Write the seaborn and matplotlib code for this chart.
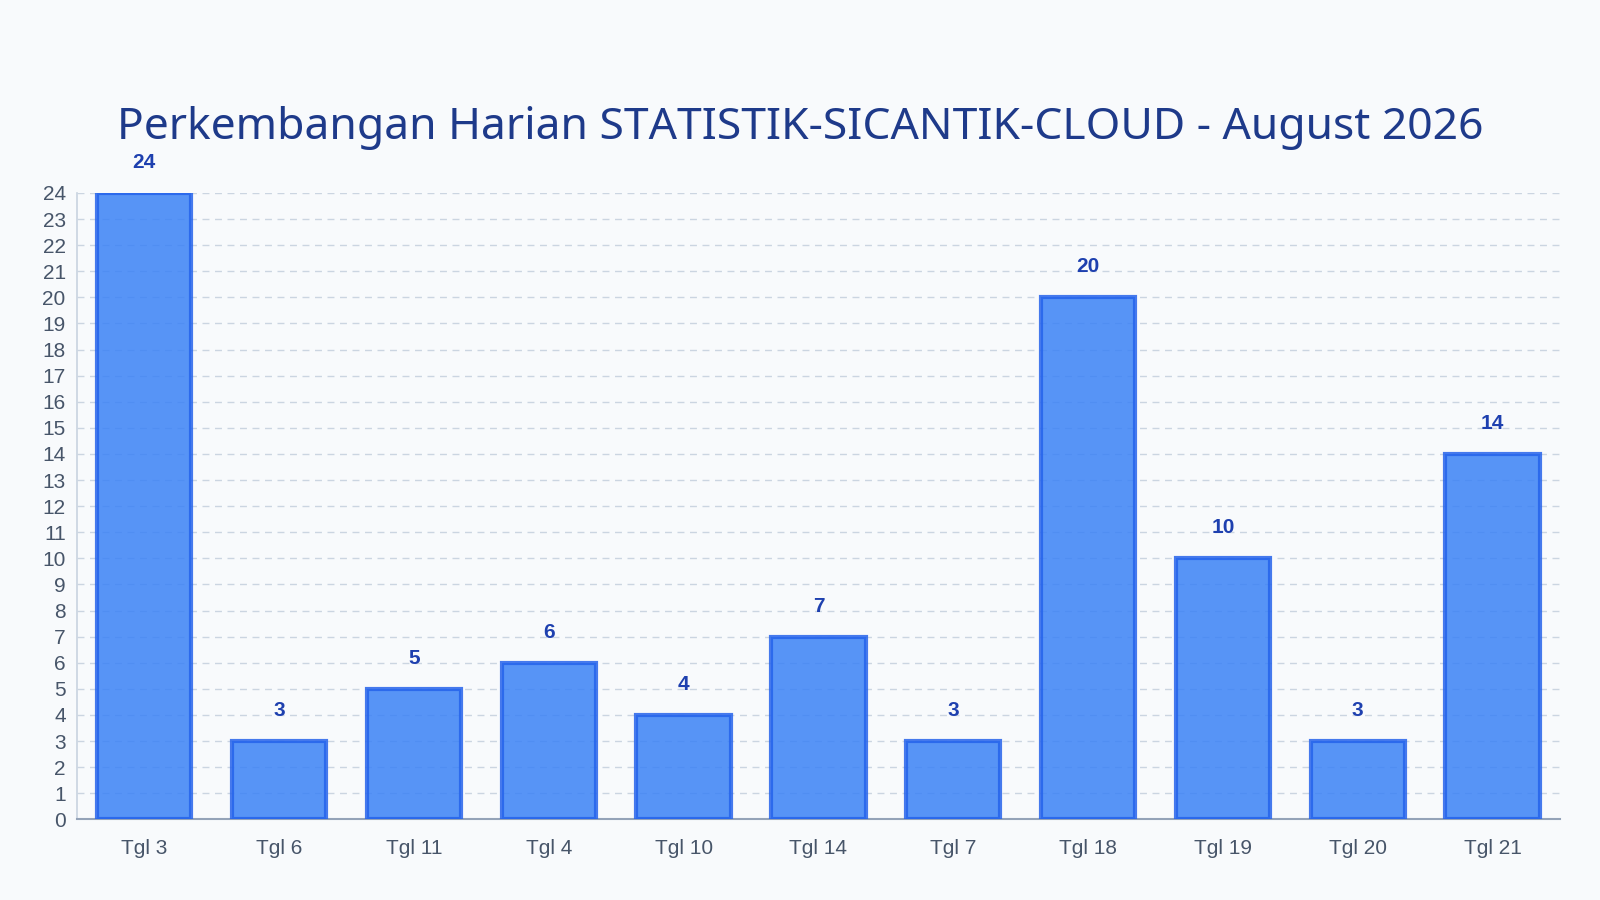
import matplotlib
matplotlib.use("Agg")
import matplotlib.pyplot as plt
import seaborn as sns
import pandas as pd

categories = ["Tgl 3","Tgl 6","Tgl 11","Tgl 4","Tgl 10","Tgl 14","Tgl 7","Tgl 18","Tgl 19","Tgl 20","Tgl 21"]
values = [24,3,5,6,4,7,3,20,10,3,14]
title = "Perkembangan Harian STATISTIK-SICANTIK-CLOUD - August 2026"

sns.set_theme(style="white")
plt.rcParams['font.family'] = ['Liberation Sans', 'DejaVu Sans']
bg = "#f8fafc"
fig = plt.figure(figsize=(16, 9), dpi=100, facecolor=bg)
ax = fig.add_axes([0.048, 0.0896, 0.927, 0.696])
ax.set_facecolor(bg)
df = pd.DataFrame({"cat": categories, "val": values})
sns.barplot(data=df, x="cat", y="val", ax=ax, color="#3b82f6", width=0.7,
            edgecolor="#2563eb", linewidth=3, saturation=1, alpha=0.85, zorder=3)
ax.set_ylim(0, 24)
ax.set_xlim(-0.5, len(categories) - 0.5)
ax.set_yticks(range(0, 25))
ax.yaxis.grid(True, linestyle=(0, (5, 4)), color="#cbd5e1", linewidth=1, zorder=0)
ax.set_xlabel(""); ax.set_ylabel("")
ax.tick_params(axis="y", labelsize=15, labelcolor="#475569", length=6, color="#cbd5e1", pad=2)
ax.tick_params(axis="x", labelsize=15, labelcolor="#475569", length=0, pad=14)
for s in ["top", "right"]:
    ax.spines[s].set_visible(False)
ax.spines["left"].set_color("#cbd5e1")
ax.spines["bottom"].set_color("#94a3b8")
ax.spines["bottom"].set_linewidth(1.5)
for i, v in enumerate(values):
    ax.text(i, v + 0.8, str(v), ha="center", va="bottom", fontsize=15, fontweight="bold",
            color="#1e40af", clip_on=False)
fig.text(0.5, 0.858, title, ha="center", va="center", fontsize=32, fontweight="bold",
         color="#1e3a8a", family=["Noto Sans", "DejaVu Sans"])
fig.savefig("out.png", facecolor=bg)
